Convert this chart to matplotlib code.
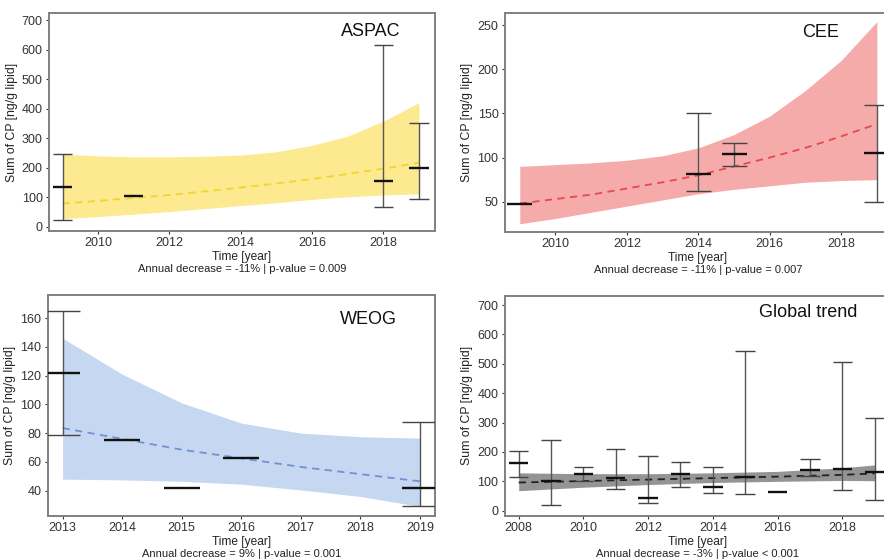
import numpy as np
import matplotlib.pyplot as plt

# ---- ASPAC ----
aspac_years = [2009, 2011, 2018, 2019]
aspac_mean = [135, 106, 156, 199]
aspac_low = [22, None, 68, 96]
aspac_high = [245, None, 615, 350]
aspac_band_x = [2009, 2010, 2011, 2012, 2013, 2014, 2015, 2016, 2017, 2018, 2019]
aspac_band_lo = [28, 35, 43, 52, 62, 72, 82, 93, 102, 108, 112]
aspac_band_hi = [246, 240, 237, 237, 239, 243, 254, 276, 307, 358, 420]
aspac_trend = [79, 88, 98, 108, 120, 133, 147, 162, 179, 197, 217]

# ---- CEE ----
cee_years = [2009, 2014, 2015, 2019]
cee_mean = [47, 81, 104, 105]
cee_low = [None, 62, 91, 50]
cee_high = [None, 150, 117, 160]
cee_band_x = [2009, 2010, 2011, 2012, 2013, 2014, 2015, 2016, 2017, 2018, 2019]
cee_band_lo = [25, 31, 38, 45, 52, 59, 64, 68, 72, 74, 75]
cee_band_hi = [90, 92, 94, 97, 102, 111, 126, 147, 176, 210, 254]
cee_trend = [48, 53, 58, 65, 72, 80, 90, 100, 111, 124, 138]

# ---- WEOG ----
weog_years = [2013, 2014, 2015, 2016, 2019]
weog_mean = [122, 75, 42, 63, 42]
weog_low = [79, None, None, None, 29]
weog_high = [165, None, None, None, 88]
weog_band_x = [2013, 2014, 2015, 2016, 2017, 2018, 2019]
weog_band_lo = [48, 47.5, 46.5, 44.5, 40.5, 36, 29]
weog_band_hi = [146, 121, 101, 87, 80, 77.5, 76.5]
weog_trend = [83.5, 76, 68.5, 62.5, 56.5, 51.5, 46.5]

# ---- Global ----
glob_years = [2008, 2009, 2010, 2011, 2012, 2013, 2014, 2015, 2016, 2017, 2018, 2019]
glob_mean = [161, 101, 126, 112, 42, 125, 79, 116, 65, 138, 142, 133]
glob_low = [116, 19, 101, 74, 25, 82, 61, 56, None, 118, 70, 36]
glob_high = [204, 241, 150, 209, 187, 167, 148, 545, None, 177, 508, 317]
glob_band_x = [2008, 2010, 2012, 2014, 2016, 2018, 2019]
glob_band_lo = [68, 80, 89, 96, 100, 103, 102]
glob_band_hi = [129, 126, 126, 129, 134, 146, 156]
glob_trend = [96, 101, 106, 111, 116, 122, 127]

panels = [
    dict(name="ASPAC", years=aspac_years, mean=aspac_mean, low=aspac_low, high=aspac_high,
         bx=aspac_band_x, blo=aspac_band_lo, bhi=aspac_band_hi, trend=aspac_trend,
         fill="#fde98f", line="#f2d52a", pos=[0.0554, 0.5875, 0.4367, 0.3893],
         xlim=(2008.62, 2019.45), ylim=(-14, 724), xticks=[2010, 2012, 2014, 2016, 2018],
         yticks=[0, 100, 200, 300, 400, 500, 600, 700], cap=0.27,
         tpos=(0.834, 0.913), note="Annual decrease = -11% | p-value = 0.009"),
    dict(name="CEE", years=cee_years, mean=cee_mean, low=cee_low, high=cee_high,
         bx=cee_band_x, blo=cee_band_lo, bhi=cee_band_hi, trend=cee_trend,
         fill="#f6abab", line="#e8484e", pos=[0.571, 0.5862, 0.4367, 0.391],
         xlim=(2008.58, 2019.39), ylim=(16, 264), xticks=[2010, 2012, 2014, 2016, 2018],
         yticks=[50, 100, 150, 200, 250], cap=0.35,
         tpos=(0.817, 0.909), note="Annual decrease = -11% | p-value = 0.007"),
    dict(name="WEOG", years=weog_years, mean=weog_mean, low=weog_low, high=weog_high,
         bx=weog_band_x, blo=weog_band_lo, bhi=weog_band_hi, trend=weog_trend,
         fill="#c6d7f2", line="#6f92d2", pos=[0.054, 0.0786, 0.4378, 0.3946],
         xlim=(2012.75, 2019.25), ylim=(22.4, 176), xticks=[2013, 2014, 2015, 2016, 2017, 2018, 2019],
         yticks=[40, 60, 80, 100, 120, 140, 160], cap=0.3,
         tpos=(0.828, 0.891), note="Annual decrease = 9% | p-value = 0.001"),
    dict(name="Global trend", years=glob_years, mean=glob_mean, low=glob_low, high=glob_high,
         bx=glob_band_x, blo=glob_band_lo, bhi=glob_band_hi, trend=glob_trend,
         fill="#949494", line="#222222", pos=[0.571, 0.0786, 0.4367, 0.3933],
         xlim=(2007.57, 2019.5), ylim=(-18, 732), xticks=[2008, 2010, 2012, 2014, 2016, 2018],
         yticks=[0, 100, 200, 300, 400, 500, 600, 700], cap=0.3,
         tpos=(0.786, 0.925), note="Annual decrease = -3% | p-value < 0.001"),
]

plt.rcParams['font.family'] = ['Liberation Sans', 'DejaVu Sans']

fig = plt.figure(figsize=(8.84, 5.60), dpi=100)

for p in panels:
    ax = fig.add_axes(p["pos"])
    ax.fill_between(p["bx"], p["blo"], p["bhi"], color=p["fill"], lw=0, zorder=1)
    ax.plot(p["bx"], p["trend"], ls=(0, (4, 3)), color=p["line"], lw=1.3, zorder=2)

    for x, m, lo, hi in zip(p["years"], p["mean"], p["low"], p["high"]):
        c = p["cap"]
        if lo is not None:
            ax.vlines(x, lo, hi, color="#555555", lw=1.0, zorder=3)
            ax.hlines([lo, hi], x - c, x + c, color="#444444", lw=1.0, zorder=3)
        ax.hlines(m, x - c, x + c, color="#111111", lw=1.7, zorder=4)

    ax.set_xlim(*p["xlim"])
    ax.set_ylim(*p["ylim"])
    ax.set_xticks(p["xticks"])
    ax.set_yticks(p["yticks"])
    ax.tick_params(labelsize=9, colors="#333333", length=2.5, width=0.8, pad=2)
    for s in ax.spines.values():
        s.set_color("#808080")
        s.set_linewidth(1.4)
    ax.set_ylabel("Sum of CP [ng/g lipid]", fontsize=8.8, color="#222222", labelpad=3)
    ax.set_xlabel("Time [year]", fontsize=8.6, color="#222222", labelpad=1.5)
    ax.annotate(p["note"], xy=(0.5, 0), xycoords="axes fraction", xytext=(0, -27.5),
                textcoords="offset points", ha="center", va="center", fontsize=8,
                color="#222222")
    ax.text(p["tpos"][0], p["tpos"][1], p["name"], transform=ax.transAxes,
            ha="center", va="center", fontsize=13, color="#111111")

fig.savefig("out.png", dpi=100)
